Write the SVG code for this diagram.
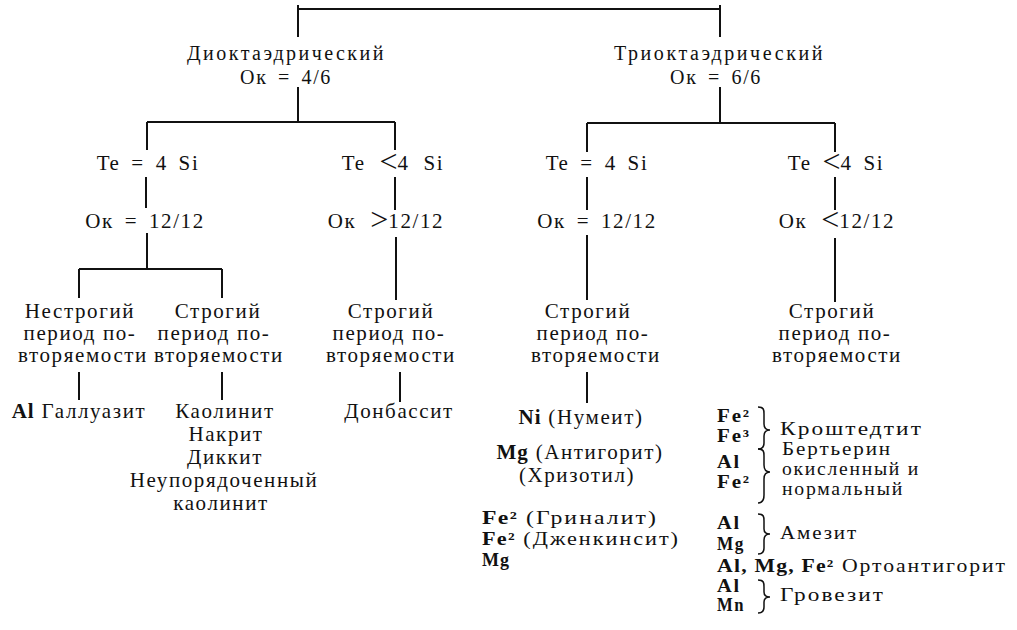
<svg xmlns="http://www.w3.org/2000/svg" width="1017" height="630" viewBox="0 0 1017 630" font-family="'Liberation Serif', 'Times New Roman', Times, 'DejaVu Serif', serif">
<style>
text{font-family:'Liberation Serif','Times New Roman',Times,'DejaVu Serif',serif;font-size:21px;fill:#111;letter-spacing:1.6px}
.c{text-anchor:middle}
.w{word-spacing:4px}
.w2{word-spacing:7px}
.t{font-size:20px}
.b{font-weight:bold;letter-spacing:1px}
.s{font-size:18px;letter-spacing:1.6px}
.big{font-size:32px;letter-spacing:0}
#connectors line{stroke:#111;stroke-width:2}
.br{fill:none;stroke:#111;stroke-width:1.5}
</style>
<rect width="1017" height="630" fill="#fff"/>
<g id="connectors">
<line x1="298" y1="9" x2="720" y2="9"/>
<line x1="298" y1="5" x2="298" y2="37"/>
<line x1="720" y1="5" x2="720" y2="37"/>
<line x1="298" y1="87" x2="298" y2="122"/>
<line x1="147" y1="122" x2="395" y2="122"/>
<line x1="147" y1="122" x2="147" y2="150"/>
<line x1="395" y1="122" x2="395" y2="150"/>
<line x1="720" y1="87" x2="720" y2="123"/>
<line x1="587" y1="123" x2="835" y2="123"/>
<line x1="587" y1="123" x2="587" y2="152"/>
<line x1="835" y1="123" x2="835" y2="152"/>
<line x1="146" y1="177" x2="146" y2="208"/>
<line x1="395" y1="177" x2="395" y2="210"/>
<line x1="587" y1="177" x2="587" y2="210"/>
<line x1="835" y1="177" x2="835" y2="210"/>
<line x1="147" y1="233" x2="147" y2="269"/>
<line x1="79" y1="269" x2="222" y2="269"/>
<line x1="79" y1="269" x2="79" y2="298"/>
<line x1="222" y1="269" x2="222" y2="298"/>
<line x1="396" y1="237" x2="396" y2="300"/>
<line x1="587" y1="235" x2="587" y2="300"/>
<line x1="835" y1="238" x2="835" y2="302"/>
<line x1="79" y1="372" x2="79" y2="400"/>
<line x1="222" y1="372" x2="222" y2="400"/>
<line x1="400" y1="372" x2="400" y2="402"/>
<line x1="587" y1="372" x2="587" y2="403"/>
</g>
<g id="n-dioct"><text class="c t" x="286" y="60" textLength="198">Диоктаэдрический</text><text class="c w t" x="286" y="84">Ок = 4/6</text></g>
<g id="n-trioct"><text class="c t" x="719" y="60" textLength="210">Триоктаэдрический</text><text class="c w t" x="716" y="84">Ок = 6/6</text></g>
<g id="n-te1"><text class="c w" x="148" y="170">Te = 4 Si</text></g>
<g id="n-te2"><text class="c w2" x="393" y="170">Te <tspan class="big" dy="2">&lt;</tspan><tspan dy="-2">4 Si</tspan></text></g>
<g id="n-te3"><text class="c w" x="597" y="170">Te = 4 Si</text></g>
<g id="n-te4"><text class="c w" x="836" y="170">Te <tspan class="big" dy="2">&lt;</tspan><tspan dy="-2">4 Si</tspan></text></g>
<g id="n-ok1"><text class="c w" x="145" y="228">Ок = 12/12</text></g>
<g id="n-ok2"><text class="c w2" x="386" y="228">Ок <tspan class="big" dy="2">&gt;</tspan><tspan dy="-2">12/12</tspan></text></g>
<g id="n-ok3"><text class="c w" x="597" y="228">Ок = 12/12</text></g>
<g id="n-ok4"><text class="c w2" x="837" y="228">Ок <tspan class="big" dy="2">&lt;</tspan><tspan dy="-2">12/12</tspan></text></g>
<g id="n-p1"><text class="c" x="80" y="318">Нестрогий</text><text class="c" x="80" y="340">период по-</text><text class="c" x="83" y="362">вторяемости</text></g>
<g id="n-p2"><text class="c" x="218" y="318">Строгий</text><text class="c" x="214" y="340">период по-</text><text class="c" x="219" y="362">вторяемости</text></g>
<g id="n-p3"><text class="c" x="391" y="318">Строгий</text><text class="c" x="389" y="340">период по-</text><text class="c" x="391" y="362">вторяемости</text></g>
<g id="n-p4"><text class="c" x="588" y="318">Строгий</text><text class="c" x="593" y="340">период по-</text><text class="c" x="596" y="362">вторяемости</text></g>
<g id="n-p5"><text class="c" x="832" y="318">Строгий</text><text class="c" x="835" y="340">период по-</text><text class="c" x="837" y="362">вторяемости</text></g>
<g id="n-halloysite"><text class="c" x="79" y="418"><tspan class="b">Al</tspan> Галлуазит</text></g>
<g id="n-kaolinite"><text class="c" x="225" y="418">Каолинит</text><text class="c" x="226" y="441">Накрит</text><text class="c" x="225" y="464">Диккит</text><text class="c" x="224" y="487">Неупорядоченный</text><text class="c" x="221" y="510">каолинит</text></g>
<g id="n-donbassite"><text class="c" x="399" y="418">Донбассит</text></g>
<g id="n-serp">
<text class="c" x="581" y="424"><tspan class="b">Ni</tspan> (Нумеит)</text>
<text class="c" x="580" y="459"><tspan class="b">Mg</tspan> (Антигорит)</text>
<text class="c" x="577" y="482">(Хризотил)</text>
<text class="s" x="482" y="524" textLength="176" lengthAdjust="spacingAndGlyphs"><tspan class="b">Fe²</tspan> (Гриналит)</text>
<text class="s" x="482" y="545" textLength="198" lengthAdjust="spacingAndGlyphs"><tspan class="b">Fe²</tspan> (Дженкинсит)</text>
<text class="s" x="482" y="566" textLength="28" lengthAdjust="spacingAndGlyphs"><tspan class="b">Mg</tspan></text>
</g>
<g id="n-cronstedtite"><text class="s b" x="717" y="422" textLength="34" lengthAdjust="spacingAndGlyphs">Fe²</text><text class="s b" x="717" y="442" textLength="34" lengthAdjust="spacingAndGlyphs">Fe³</text><path class="br" d="M758 407 C764 407 764 410 764 414 L764 424 C764 428 766 430 770 430 C766 430 764 432 764 436 L764 443 C764 447 762 449 758 449"/><text class="s" x="780" y="435" textLength="143" lengthAdjust="spacingAndGlyphs">Кроштедтит</text></g>
<g id="n-berthierine"><text class="s b" x="717" y="468" textLength="24" lengthAdjust="spacingAndGlyphs">Al</text><text class="s b" x="717" y="488" textLength="34" lengthAdjust="spacingAndGlyphs">Fe²</text><path class="br" d="M758 449 C764 449 764 452 764 456 L764 465 C764 469 766 472 770 472 C766 472 764 475 764 479 L764 495 C764 500 762 503 758 503"/><text class="s" x="782" y="455" textLength="110" lengthAdjust="spacingAndGlyphs">Бертьерин</text><text class="s" x="782" y="475" textLength="138" lengthAdjust="spacingAndGlyphs">окисленный  и</text><text class="s" x="782" y="495" textLength="122" lengthAdjust="spacingAndGlyphs">нормальный</text></g>
<g id="n-amesite"><text class="s b" x="717" y="529" textLength="24" lengthAdjust="spacingAndGlyphs">Al</text><text class="s b" x="717" y="550" textLength="28" lengthAdjust="spacingAndGlyphs">Mg</text><path class="br" d="M758 514 C764 514 764 517 764 521 L764 529 C764 532 766 534 770 534 C766 534 764 536 764 540 L764 548 C764 552 762 554 758 554"/><text class="s" x="780" y="539" textLength="78" lengthAdjust="spacingAndGlyphs">Амезит</text></g>
<g id="n-orthoantigorite"><text class="s" x="717" y="572" textLength="290" lengthAdjust="spacingAndGlyphs"><tspan class="b">Al, Mg, Fe²</tspan>  Ортоантигорит</text></g>
<g id="n-grovesite"><text class="s b" x="717" y="592" textLength="24" lengthAdjust="spacingAndGlyphs">Al</text><text class="s b" x="717" y="611" textLength="28" lengthAdjust="spacingAndGlyphs">Mn</text><path class="br" d="M758 580 C764 580 764 583 764 587 L764 592 C764 595 766 597 770 597 C766 597 764 599 764 602 L764 607 C764 611 762 613 758 613"/><text class="s" x="780" y="601" textLength="105" lengthAdjust="spacingAndGlyphs">Гровезит</text></g>
</svg>
